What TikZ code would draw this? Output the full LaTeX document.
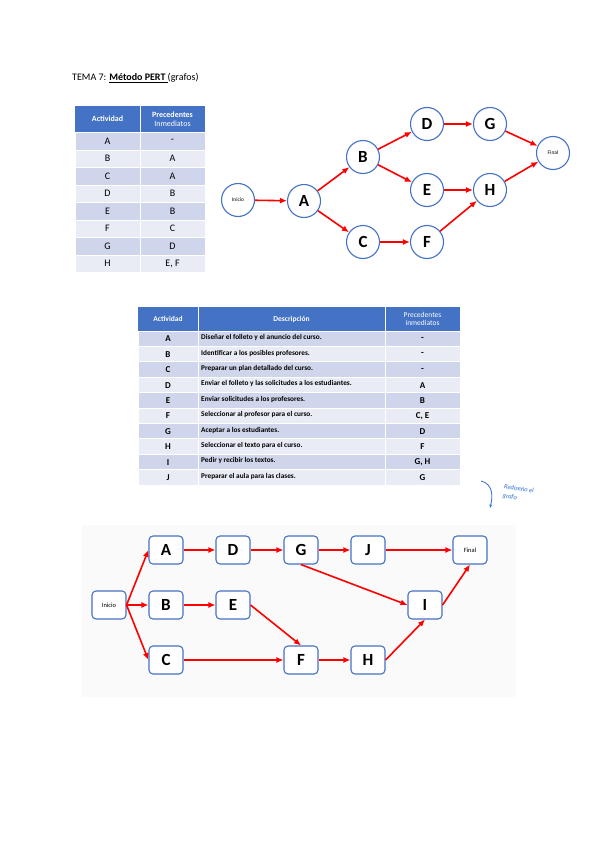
\documentclass[tikz,border=0pt]{standalone}
\usepackage{fontspec}
\setmainfont{Carlito}
\usetikzlibrary{arrows.meta, positioning}

\definecolor{azulcab}{HTML}{4472C4}
\definecolor{filaosc}{HTML}{CFD5EA}
\definecolor{filacla}{HTML}{E9EBF5}
\definecolor{tinta}{HTML}{2F6FD6}

\tikzset{
    evento/.style={circle, draw=azulcab, line width=1.1pt, fill=white,
        minimum size=33pt, inner sep=0pt, font=\bfseries\fontsize{17}{17}\selectfont},
    actividad/.style={rounded corners=4pt, draw=azulcab, line width=1.1pt, fill=white,
        minimum width=34pt, minimum height=28pt, inner sep=0pt,
        font=\bfseries\fontsize{17}{17}\selectfont},
    flecha/.style={draw=red, line width=1.6pt, -{Latex[length=7pt,width=6pt]}},
    celda/.style={font=\fontsize{10}{11}\selectfont},
    cabecera/.style={text=white, font=\bfseries\fontsize{8}{9}\selectfont, align=center}
}

\begin{document}
\begin{tikzpicture}[x=1pt, y=-1pt]
    \fill[white] (0,0) rectangle (600,848);
    \useasboundingbox (0,0) rectangle (600,848);

    % titulo
    \node[anchor=base west, inner sep=0pt, font=\fontsize{10}{12}\selectfont] (titulo) at (72,81)
        {TEMA 7: \underline{\textbf{Método PERT }}(grafos)};

    % tabla 1
    \fill[azulcab] (75,106) rectangle (205,132);
    \draw[white, line width=0.8pt] (140,106) -- (140,132);
    \node[cabecera] (t1act) at (107.5,119) {Actividad};
    \node[cabecera] (t1pre) at (172.5,119) {Precedentes\\\mdseries Inmediatos};
    \foreach \act/\prec [count=\i] in {A/-, B/A, C/A, D/B, E/B, F/C, G/D, H/{E, F}} {
        \pgfmathsetmacro{\ytop}{132.5+(\i-1)*17.5}
        \ifodd\i \def\col{filaosc}\else \def\col{filacla}\fi
        \fill[\col, draw=white, line width=0.8pt] (75,\ytop) rectangle (205,\ytop+17.5);
        \draw[white, line width=0.8pt] (140,\ytop) -- (140,\ytop+17.5);
        \node[celda] at (107.5,\ytop+8.75) {\act};
        \node[celda] at (172.5,\ytop+8.75) {\prec};
    }

    % grafo 1
    \node[evento, font=\fontsize{5.5}{6}\selectfont] (ini) at (238,200) {Inicio};
    \node[evento] (a) at (304,201) {A};
    \node[evento] (b) at (363,157) {B};
    \node[evento] (c) at (363,242) {C};
    \node[evento] (d) at (427,124) {D};
    \node[evento] (e) at (427,190) {E};
    \node[evento] (f) at (427,242) {F};
    \node[evento] (g) at (490,124) {G};
    \node[evento] (h) at (490,190) {H};
    \node[evento, font=\fontsize{5.5}{6}\selectfont] (fin) at (553,153) {Final};
    \draw[flecha] (ini) -- (a);
    \draw[flecha] (a) -- (b);
    \draw[flecha] (a) -- (c);
    \draw[flecha] (b) -- (d);
    \draw[flecha] (b) -- (e);
    \draw[flecha] (c) -- (f);
    \draw[flecha] (d) -- (g);
    \draw[flecha] (e) -- (h);
    \draw[flecha] (f) -- (h);
    \draw[flecha] (g) -- (fin);
    \draw[flecha] (h) -- (fin);

    % tabla 2
    \fill[azulcab] (138,307) rectangle (460,331);
    \draw[white, line width=0.8pt] (198,307) -- (198,331) (385,307) -- (385,331);
    \node[cabecera, font=\bfseries\fontsize{7.5}{8}\selectfont] (t2act) at (168,319) {Actividad};
    \node[cabecera, font=\bfseries\fontsize{7.5}{8}\selectfont] (t2des) at (291.5,319) {Descripción};
    \node[cabecera, font=\fontsize{7.5}{8}\selectfont] (t2pre) at (422.5,319) {Precedentes\\inmediatos};
    \foreach \act/\desc/\prec [count=\i] in {
        A/{Diseñar el folleto y el anuncio del curso.}/-,
        B/{Identificar a los posibles profesores.}/-,
        C/{Preparar un plan detallado del curso.}/-,
        D/{Enviar el folleto y las solicitudes a los estudiantes.}/A,
        E/{Enviar solicitudes a los profesores.}/B,
        F/{Seleccionar al profesor para el curso.}/{C, E},
        G/{Aceptar a los estudiantes.}/D,
        H/{Seleccionar el texto para el curso.}/F,
        I/{Pedir y recibir los textos.}/{G, H},
        J/{Preparar el aula para las clases.}/G} {
        \pgfmathsetmacro{\ytop}{331+(\i-1)*15.4}
        \ifodd\i \def\col{filaosc}\else \def\col{filacla}\fi
        \fill[\col, draw=white, line width=0.8pt] (138,\ytop) rectangle (460,\ytop+15.4);
        \draw[white, line width=0.8pt] (198,\ytop) -- (198,\ytop+15.4) (385,\ytop) -- (385,\ytop+15.4);
        \node[font=\bfseries\fontsize{9}{10}\selectfont] at (168,\ytop+8) {\act};
        \node[anchor=west, inner sep=0pt, font=\bfseries\fontsize{7.3}{8}\selectfont] at (201,\ytop+6.8) {\desc};
        \node[font=\bfseries\fontsize{9}{10}\selectfont] at (422.5,\ytop+8) {\prec};
    }

    % nota a mano
    \draw[tinta, line width=0.8pt, -{Stealth[length=4pt]}] (481,481) .. controls (493,484) and (493,496) .. (490,508);
    \node[tinta, anchor=west, align=left, rotate=-8, font=\itshape\fontsize{6.5}{9}\selectfont] (nota) at (500,491)
        {Rediseño el\\grafo};

    % grafo 2
    \fill[black!2] (82,525) rectangle (516,697);
    \node[actividad, font=\fontsize{6.5}{7}\selectfont] (ini2) at (109,605) {Inicio};
    \node[actividad] (a2) at (166,550) {A};
    \node[actividad] (b2) at (166,605) {B};
    \node[actividad] (c2) at (166,660) {C};
    \node[actividad] (d2) at (233,550) {D};
    \node[actividad] (e2) at (233,605) {E};
    \node[actividad] (g2) at (301,550) {G};
    \node[actividad] (f2) at (301,660) {F};
    \node[actividad] (j2) at (368,550) {J};
    \node[actividad] (h2) at (368,660) {H};
    \node[actividad] (i2) at (425,605) {I};
    \node[actividad, font=\fontsize{6.5}{7}\selectfont] (fin2) at (470,550) {Final};
    \draw[flecha] (ini2.east) -- (a2.west);
    \draw[flecha] (ini2.east) -- (b2.west);
    \draw[flecha] (ini2.east) -- (c2.west);
    \draw[flecha] (a2) -- (d2);
    \draw[flecha] (d2) -- (g2);
    \draw[flecha] (g2) -- (j2);
    \draw[flecha] (j2) -- (fin2);
    \draw[flecha] (b2) -- (e2);
    \draw[flecha] (c2) -- (f2);
    \draw[flecha] (f2) -- (h2);
    \draw[flecha] (g2.south) -- (i2.west);
    \draw[flecha] (e2.east) -- (f2.north);
    \draw[flecha] (h2.east) -- (i2.south);
    \draw[flecha] (i2.east) -- (fin2.south);
\end{tikzpicture}
\end{document}
